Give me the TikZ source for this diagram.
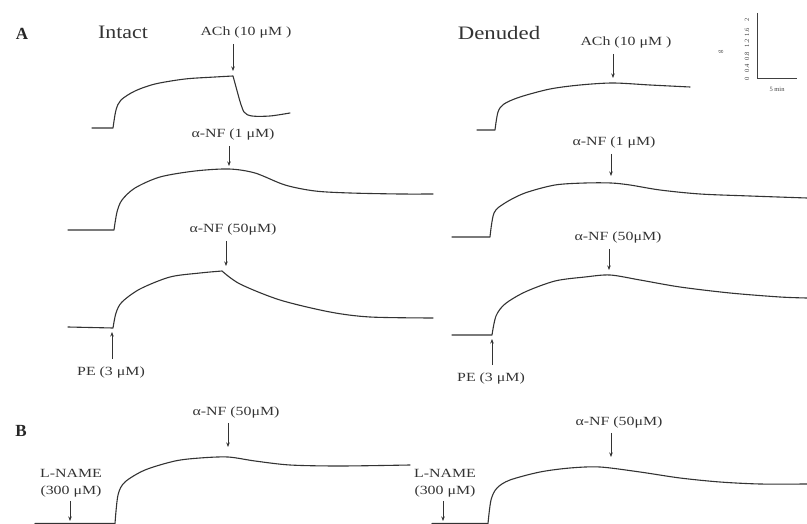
\documentclass[tikz,border=0pt]{standalone}
\usepackage{fontspec}
\setmainfont{Liberation Serif}
\usetikzlibrary{arrows.meta}

\newcommand{\wlbl}[1]{\scalebox{1.27}[1]{#1}}

\tikzset{
  trace/.style={line width=1.1pt, black!80, line join=round, line cap=round},
  drug/.style={line width=0.7pt, black!80, -{Stealth[length=4.5pt,width=3.5pt]}},
  lbl/.style={font=\fontsize{12.5}{16.5}\selectfont, text=black!80, inner sep=1pt, align=center},
  cond/.style={font=\fontsize{19}{20}\selectfont, text=black!80, inner sep=0pt},
  panel/.style={font=\fontsize{17}{18}\selectfont\bfseries, text=black!85, inner sep=0pt},
  tick/.style={font=\fontsize{6.5}{7}\selectfont, rotate=90, inner sep=0pt, text=black!75},
}

\begin{document}
\begin{tikzpicture}[x=1pt, y=-1pt]
  \useasboundingbox (0,0) rectangle (807,524);

  % panel A, intact
  \node[panel] (pA) at (22,34) {A};
  \node[cond] (intact) at (123,32) {\scalebox{1.15}[1]{Intact}};
  \node[lbl] (achI) at (246,33) {\wlbl{ACh (10 μM )}};
  \node[lbl] (nf1I) at (233,135) {\wlbl{α-NF (1 μM)}};
  \node[lbl] (nf50I) at (233,230) {\wlbl{α-NF (50μM)}};
  \node[lbl] (peI) at (111,372) {\wlbl{PE (3 μM)}};

  \draw[trace] (92,128) -- (113,128) -- plot[smooth] coordinates
    {(113,128) (116,110) (121,100) (135,91) (155,84) (185,79) (215,77) (233,76)}
    -- (239,98) -- plot[smooth] coordinates {(239,98) (244,112) (252,116) (270,116) (290,113)};
  \draw[trace] (68,230) -- (114,230) -- plot[smooth] coordinates
    {(114,230) (117,212) (122,200) (135,188) (160,177) (195,171) (229,169) (255,173)
     (285,185) (315,191) (350,193) (400,194) (433,194)};
  \draw[trace] (68,327) -- (113,328) -- plot[smooth] coordinates
    {(113,328) (116,313) (122,302) (140,289) (170,277) (200,273) (222,271)}
    -- plot[smooth] coordinates {(222,271) (240,284) (280,300) (330,312) (370,317) (433,318)};

  \coordinate (tAchI) at (233,71);
  \coordinate (tNf1I) at (229,166);
  \coordinate (tNf50I) at (226,266);
  \coordinate (tPeI) at (112,332);
  \draw[drug] ([yshift=-4pt]achI.south -| tAchI) -- (tAchI);
  \draw[drug] ([yshift=-4pt]nf1I.south -| tNf1I) -- (tNf1I);
  \draw[drug] ([yshift=-4pt]nf50I.south -| tNf50I) -- (tNf50I);
  \draw[drug] ([yshift=6pt]peI.north -| tPeI) -- (tPeI);

  % panel A, denuded
  \node[cond] (denud) at (499,33) {\scalebox{1.2}[1]{Denuded}};
  \node[lbl] (achD) at (626,43) {\wlbl{ACh (10 μM )}};
  \node[lbl] (nf1D) at (614,143) {\wlbl{α-NF (1 μM)}};
  \node[lbl] (nf50D) at (618,238) {\wlbl{α-NF (50μM)}};
  \node[lbl] (peD) at (491,378) {\wlbl{PE (3 μM)}};

  \draw[trace] (477,130) -- (495,130) -- plot[smooth] coordinates
    {(495,130) (498,112) (504,104) (520,97) (550,89) (580,85) (613,83) (650,85) (690,87)};
  \draw[trace] (452,237) -- (490,237) -- plot[smooth] coordinates
    {(490,237) (494,213) (505,203) (525,193) (555,185) (585,183) (611,183) (630,185)
     (660,190) (700,194) (750,196) (807,198)};
  \draw[trace] (452,335) -- (492,335) -- plot[smooth] coordinates
    {(492,335) (496,316) (505,304) (525,292) (555,281) (585,277) (610,275) (640,280)
     (680,287) (730,293) (780,297) (807,298)};

  \coordinate (tAchD) at (613,78);
  \coordinate (tNf1D) at (611,176);
  \coordinate (tNf50D) at (609,270);
  \coordinate (tPeD) at (492,339);
  \draw[drug] ([yshift=-4pt]achD.south -| tAchD) -- (tAchD);
  \draw[drug] ([yshift=-4pt]nf1D.south -| tNf1D) -- (tNf1D);
  \draw[drug] ([yshift=-4pt]nf50D.south -| tNf50D) -- (tNf50D);
  \draw[drug] ([yshift=6pt]peD.north -| tPeD) -- (tPeD);

  % calibration
  \coordinate (axTop) at (757,13);
  \coordinate (axO) at (757,78);
  \coordinate (axR) at (797,78);
  \draw[line width=0.8pt, black!75] (axTop) -- (axO) -- (axR);
  \foreach \v/\yy [count=\i] in {0/79,0.4/68,0.8/56,1.2/43,1.6/32,2/20}
    \node[tick] (cal\i) at (747,\yy) {\v};
  \node[tick] (calg) at (721,52) {g};
  \node[tick, rotate=-90] (calmin) at (777,89) {5 min};

  % panel B
  \node[panel] (pB) at (21,431) {B};
  \node[lbl] (nfB) at (236,412) {\wlbl{α-NF (50μM)}};
  \node[lbl] (lnB) at (71,483) {\wlbl{L-NAME}\\\wlbl{(300 μM)}};
  \node[lbl] (nfBD) at (619,422) {\wlbl{α-NF (50μM)}};
  \node[lbl] (lnBD) at (445,483) {\wlbl{L-NAME}\\\wlbl{(300 μM)}};

  \draw[trace] (35,523.5) -- (115,523.5) -- plot[smooth] coordinates
    {(115,523.5) (118,495) (125,482) (145,470) (175,461) (200,458) (228,457) (255,461)
     (290,465) (340,466) (410,465)};
  \draw[trace] (432,523.5) -- (488,523.5) -- plot[smooth] coordinates
    {(488,523.5) (491,500) (497,488) (510,480) (540,472) (570,468) (600,467) (640,472)
     (680,478) (720,482) (760,484) (807,484)};

  \coordinate (tNfB) at (228,447);
  \coordinate (tLnB) at (70,521);
  \coordinate (tNfBD) at (611,457);
  \coordinate (tLnBD) at (443,521);
  \draw[drug] ([yshift=-4pt]nfB.south -| tNfB) -- (tNfB);
  \draw[drug] ([yshift=-3pt]lnB.south -| tLnB) -- (tLnB);
  \draw[drug] ([yshift=-4pt]nfBD.south -| tNfBD) -- (tNfBD);
  \draw[drug] ([yshift=-3pt]lnBD.south -| tLnBD) -- (tLnBD);
\end{tikzpicture}
\end{document}
